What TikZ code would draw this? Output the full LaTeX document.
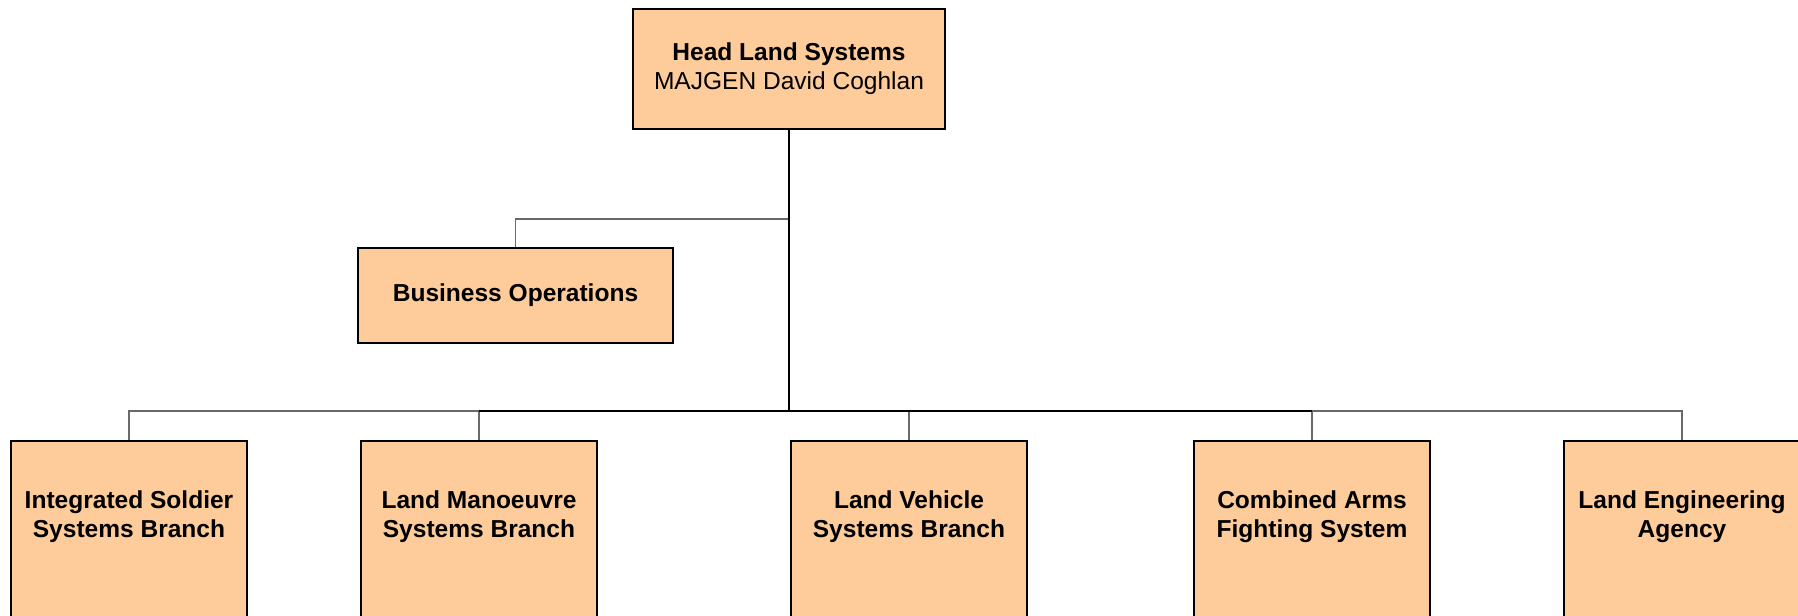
\documentclass[tikz,border=0pt]{standalone}
\usepackage{fontspec}
\setmainfont{Liberation Sans}
\usepackage{xcolor}
\usetikzlibrary{positioning,calc}
\definecolor{peach}{RGB}{254,204,154}
\definecolor{wire}{RGB}{105,105,105}
\tikzset{
  unit/.style={draw=black,line width=1.5pt,fill=peach,align=center,inner sep=0pt,
    font=\fontsize{18.4}{21.8}\selectfont},
  headbox/.style={unit,minimum width=234pt,minimum height=90pt},
  staffbox/.style={unit,minimum width=236pt,minimum height=71pt,font=\fontsize{18.4}{21.8}\selectfont\bfseries},
  branch/.style={unit,anchor=north,minimum width=177pt,text height=72.5pt,text depth=78pt,
    font=\fontsize{18.4}{21.8}\selectfont\bfseries},
  trunk/.style={line width=2.2pt,black},
  busline/.style={line width=1.5pt,black},
  feeder/.style={line width=0.8pt,wire}
}
\begin{document}
\begin{tikzpicture}[x=0.75pt,y=-0.75pt]
  \useasboundingbox (0,0) rectangle (1798,615);
  \node[headbox] (head) at (789,69) {\textbf{Head Land Systems}\\MAJGEN David Coghlan};
  \node[staffbox] (busops) at (515.5,295.5) {Business Operations};
  \node[branch] (isb) at (129,440) {Integrated Soldier\\Systems Branch};
  \node[branch] (lmsb) at (479,440) {Land Manoeuvre\\Systems Branch};
  \node[branch] (lvsb) at (909,440) {Land Vehicle\\Systems Branch};
  \node[branch] (cafs) at (1312,440) {Combined Arms\\Fighting System};
  \node[branch] (lea) at (1682,440) {Land Engineering\\Agency};
  \coordinate (staffjoin) at (789,219);
  \coordinate (bus) at (789,411);
  \draw[feeder] (staffjoin) -| (busops.north);
  \foreach \b in {isb,lmsb,lvsb,cafs,lea} {\draw[feeder] (bus) -| (\b.north);}
  \draw[busline] (lmsb.north |- bus) -- (cafs.north |- bus);
  \draw[trunk] (head.south) -- (bus);
\end{tikzpicture}
\end{document}
